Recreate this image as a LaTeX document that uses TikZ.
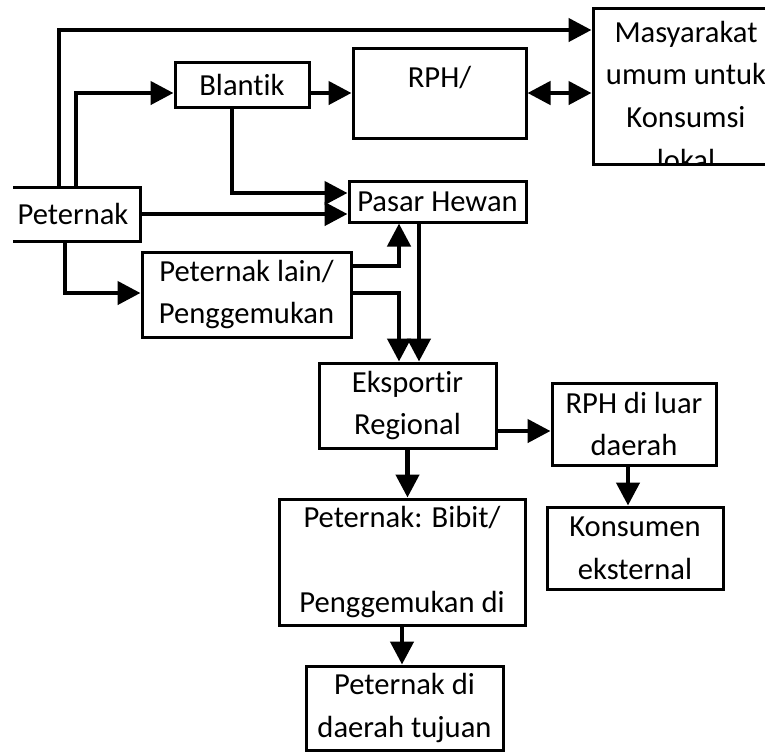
\documentclass[tikz,border=0pt]{standalone}
\usepackage{fontspec}
\setmainfont{Carlito}[Ligatures=NoCommon]
\usetikzlibrary{arrows.meta}

\begin{document}
\begin{tikzpicture}[x=.5pt,y=-.5pt,
  box/.style={draw,line width=1.5pt,inner sep=0pt,font=\fontsize{15.3}{21.3}\selectfont},
  lines/.style={box,align=center},
  flow/.style={line width=2.25pt,-{Triangle[length=11.5pt,width=11.5pt]}},
  both/.style={line width=2.25pt,{Triangle[length=11.5pt,width=11.5pt]}-{Triangle[length=11.5pt,width=11.5pt]}}]
  \useasboundingbox (0,0) rectangle (765,752);
  \clip (13,0) rectangle (765,752);
  \begin{scope}
    \clip (580,0) rectangle (780,165.5);
    \node[box,minimum width=93pt,minimum height=78pt] (mas) at (686,86) {\vbox to 78pt{\hsize=93pt\centering\vskip6.5pt Masyarakat\\umum untuk\\Konsumsi\\lokal\par\vss}};
  \end{scope}
  \node[box,minimum width=67pt,minimum height=27pt] (pet) at (73,214) {Peternak};
  \node[box,minimum width=67pt,minimum height=22.5pt] (bla) at (242,84.5) {Blantik};
  \node[box,minimum width=86.5pt,minimum height=45pt,text depth=16pt] (rph) at (439.5,93) {RPH/};
  \node[box,minimum width=88.5pt,minimum height=20.5pt] (pas) at (437.5,201.5) {Pasar Hewan};
  \node[lines,minimum width=104.5pt,minimum height=42.5pt] (lain) at (246.5,294.5) {Peternak lain/\\Penggemukan};
  \node[lines,minimum width=88.5pt,minimum height=42.5pt] (eks) at (407.5,405.5) {Eksportir\\Regional};
  \node[lines,minimum width=82pt,minimum height=41pt] (luar) at (634,424) {RPH di luar\\daerah};
  \node[lines,minimum width=88pt,minimum height=41pt] (kon) at (635,548) {Konsumen\\eksternal};
  \node[lines,minimum width=123pt,minimum height=63pt] (bib) at (402,562) {Peternak: Bibit/\\~\\Penggemukan di};
  \node[lines,minimum width=98.5pt,minimum height=42pt] (tuj) at (404.5,708) {Peternak di\\daerah tujuan};
  \coordinate (a1) at (59,30);
  \coordinate (a2) at (76,93);
  \coordinate (a3) at (232,193);
  \coordinate (a4) at (65,293);
  \coordinate (a5) at (399,266);
  \coordinate (a6) at (399,293);
  \coordinate (a7) at (419,300);
  \coordinate (a8) at (500,431);
  \coordinate (a9) at (628,480);
  \draw[flow] (pet.north -| a1) |- (mas.west |- a1);
  \draw[flow] (pet.north -| a2) |- (bla.west |- a2);
  \draw[flow] (bla.east |- a2) -- (rph.west |- a2);
  \draw[both] (rph.east) -- (mas.west |- rph.east);
  \draw[flow] (bla.south -| a3) |- (pas.west |- a3);
  \draw[flow] (pet.east) -- (pas.west |- pet.east);
  \draw[flow] (pet.south -| a4) |- (lain.west |- a4);
  \draw[flow] (lain.east |- a5) -| (pas.south -| a5);
  \draw[flow] (lain.east |- a6) -| (eks.north -| a6);
  \draw[flow] (pas.south -| a7) -- (eks.north -| a7);
  \draw[flow] (eks.east |- a8) -- (luar.west |- a8);
  \draw[flow] (luar.south -| a9) -- (kon.north -| a9);
  \draw[flow] (eks.south) -- (bib.north -| eks.south);
  \draw[flow] (bib.south) -- (tuj.north -| bib.south);
\end{tikzpicture}
\end{document}
